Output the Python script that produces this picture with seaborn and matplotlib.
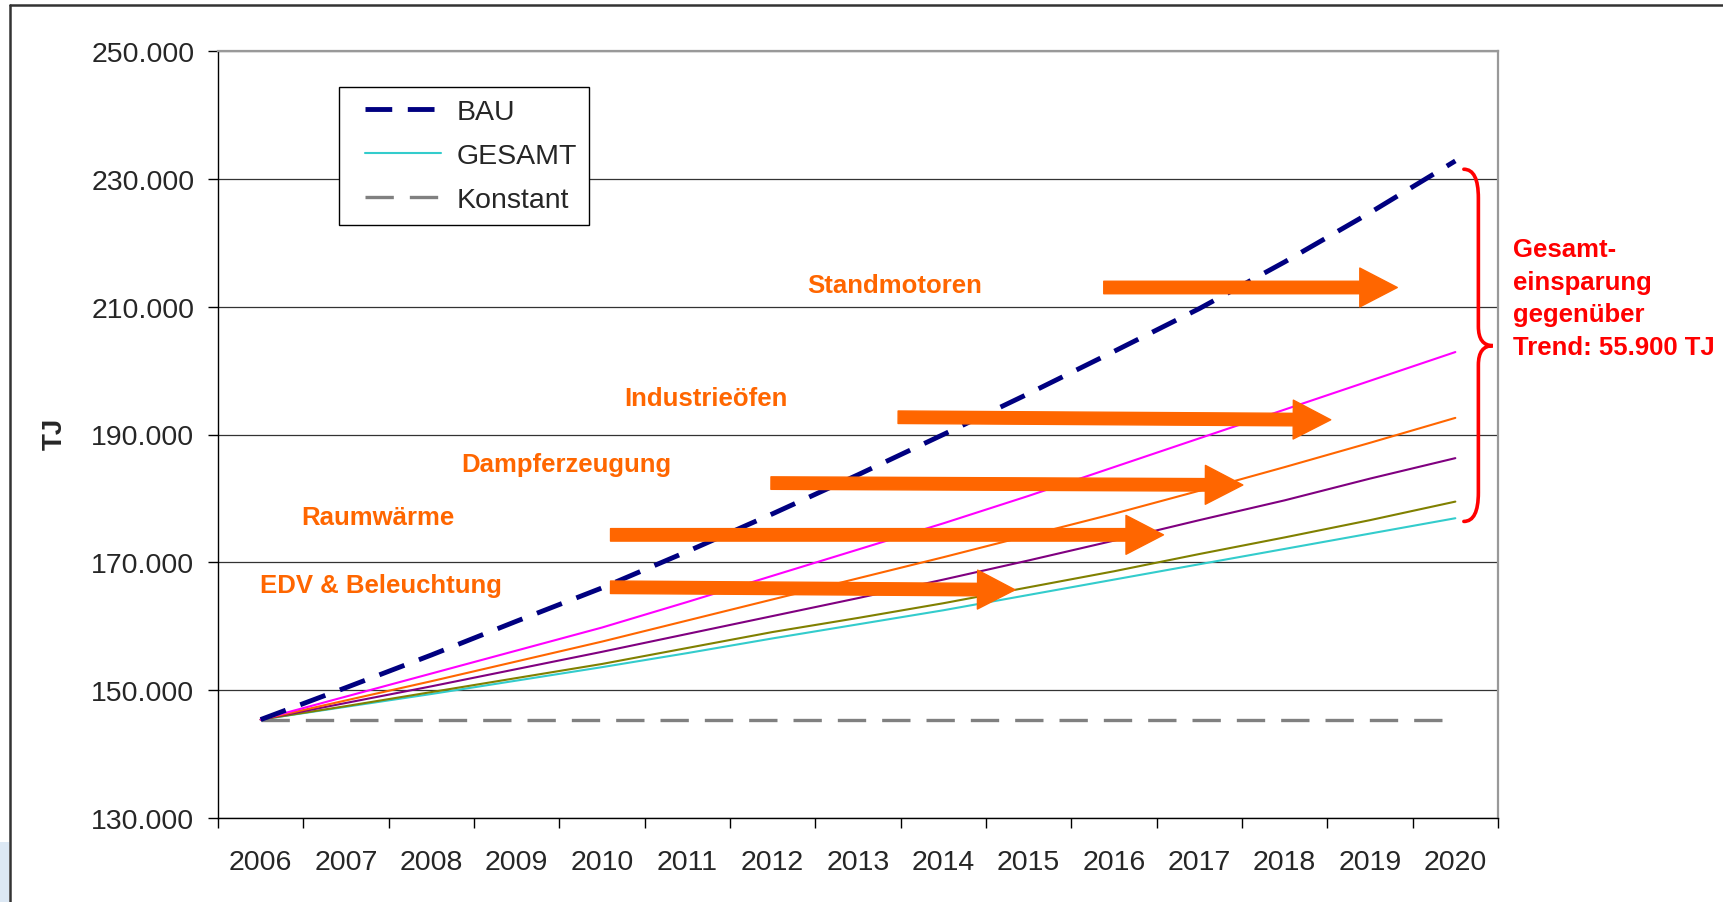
import matplotlib
matplotlib.use('Agg')
import matplotlib.pyplot as plt
import seaborn as sns
import pandas as pd
import numpy as np
from matplotlib.path import Path
from matplotlib.patches import PathPatch, Rectangle
from matplotlib.lines import Line2D
from matplotlib.legend_handler import HandlerLine2D
from matplotlib.ticker import FuncFormatter, FixedLocator

# Daten (TJ)
jahre = list(range(2006, 2021))
bau = [145400, 150400, 155500, 160800, 166000, 171700, 177600, 183700,
       190000, 196400, 203000, 209700, 217000, 224700, 232800]
standmotoren = [145400, 149000, 152600, 156200, 159800, 163800, 167900, 172000,
                176100, 180400, 184900, 189400, 193900, 198400, 202900]
industrieoefen = [145400, 148400, 151400, 154500, 157600, 160900, 164200, 167500,
                  170800, 174200, 177600, 181200, 184900, 188700, 192600]
dampferzeugung = [145400, 148000, 150600, 153300, 156000, 158800, 161600, 164400,
                  167300, 170300, 173400, 176600, 179700, 183100, 186300]
raumwaerme = [145400, 147500, 149700, 151900, 154100, 156600, 159100, 161300,
              163600, 166100, 168600, 171300, 173900, 176600, 179500]
gesamt = [145400, 147400, 149400, 151500, 153600, 155800, 158100, 160300,
          162500, 164900, 167300, 169700, 172100, 174500, 176900]
konstant = [145400] * 15

y_ticks = [130000, 150000, 170000, 190000, 210000, 230000, 250000]

# Pfeile: (Beschriftung, Text-Position, Pfeil-Start, Pfeil-Spitze)
massnahmen = [
    ('Standmotoren', (2013.43, 213400), (2015.88, 213000), (2019.32, 213000)),
    ('Industrieöfen', (2011.22, 195700), (2013.47, 192700), (2018.54, 192300)),
    ('Dampferzeugung', (2009.58, 185400), (2011.98, 182400), (2017.51, 182100)),
    ('Raumwärme', (2007.37, 177100), (2010.10, 174300), (2016.58, 174300)),
    ('EDV & Beleuchtung', (2007.41, 166500), (2010.10, 166100), (2014.84, 165700)),
]

reihen = {
    'BAU': bau,
    'Standmotoren': standmotoren,
    'Industrieöfen': industrieoefen,
    'Dampferzeugung': dampferzeugung,
    'Raumwärme': raumwaerme,
    'GESAMT': gesamt,
    'Konstant': konstant,
}
df = pd.DataFrame([(name, j, v) for name, werte in reihen.items()
                   for j, v in zip(jahre, werte)],
                  columns=['Reihe', 'Jahr', 'TJ'])

stile = {
    'Konstant': dict(color='#808080', lw=2.4, linestyle=(0, (8.5, 4.8))),
    'GESAMT': dict(color='#33CCCC', lw=1.5, linestyle='-'),
    'Raumwärme': dict(color='#808000', lw=1.5, linestyle='-'),
    'Dampferzeugung': dict(color='#800080', lw=1.5, linestyle='-'),
    'Industrieöfen': dict(color='#FF6600', lw=1.5, linestyle='-'),
    'Standmotoren': dict(color='#FF00FF', lw=1.5, linestyle='-'),
    'BAU': dict(color='#000080', lw=3.5, linestyle=(0, (5.5, 3.2))),
}

sns.set_theme(style='white')
plt.rcParams['font.family'] = ['Liberation Sans', 'DejaVu Sans']

fig = plt.figure(figsize=(17.24, 9.03), dpi=100)
ax = fig.add_axes([218 / 1724, 1 - 819 / 903, 1280 / 1724, 767 / 903])

linien = {}
for name, stil in stile.items():
    sns.lineplot(data=df[df['Reihe'] == name], x='Jahr', y='TJ', ax=ax,
                 color=stil['color'], lw=stil['lw'], linestyle=stil['linestyle'],
                 zorder=3)
    linien[name] = ax.lines[-1]

ax.set_xlim(2005.5, 2020.5)
ax.set_ylim(130000, 250000)
ax.set_yticks(y_ticks)
ax.yaxis.set_major_formatter(FuncFormatter(lambda v, p: f'{int(v):,}'.replace(',', '.')))
ax.grid(axis='y', color='#333333', lw=0.9)
ax.grid(axis='x', visible=False)

# Kategorieachse: Striche zwischen den Jahren, Beschriftung mittig
ax.xaxis.set_major_locator(FixedLocator(np.arange(2005.5, 2021, 1.0)))
ax.xaxis.set_minor_locator(FixedLocator(jahre))
ax.set_xticklabels([])
ax.set_xticklabels([str(j) for j in jahre], minor=True)
ax.tick_params(axis='x', which='major', direction='out', length=7, width=1,
               color='black', bottom=True)
ax.tick_params(axis='x', which='minor', length=0, pad=22, labelsize=20.5)
ax.tick_params(axis='y', direction='out', length=7, width=1, color='black',
               left=True, pad=10, labelsize=20.5)
ax.set_xlabel('')
ax.set_ylabel('')

for side in ['left', 'bottom']:
    ax.spines[side].set_color('black')
    ax.spines[side].set_linewidth(1)
for side in ['top', 'right']:
    ax.spines[side].set_color('#999999')
    ax.spines[side].set_linewidth(1.6)

# Pfeile und Beschriftungen
orange = '#FF6600'
for label, text_pos, start, spitze in massnahmen:
    ax.annotate('', xy=spitze, xytext=start,
                arrowprops=dict(arrowstyle='simple,head_length=27,head_width=28,tail_width=9',
                                mutation_scale=1, color=orange, shrinkA=0, shrinkB=0),
                zorder=4)
    ax.text(text_pos[0], text_pos[1], label, color=orange, fontsize=18.5,
            fontweight='bold', ha='center', va='center', zorder=5)

# geschweifte Klammer
x0, xv, xt = 2020.10, 2020.27, 2020.44
oben, unten = bau[-1] - 1300, gesamt[-1] - 500
mitte = 203900
r1, r2 = 4500, 3000
verts = [(x0, oben), (xv, oben), (xv, oben - r1),
         (xv, mitte + r2), (xv, mitte), (xt, mitte),
         (xv, mitte), (xv, mitte - r2),
         (xv, unten + r1), (xv, unten), (x0, unten)]
codes = [Path.MOVETO, Path.CURVE3, Path.CURVE3,
         Path.LINETO, Path.CURVE3, Path.CURVE3,
         Path.CURVE3, Path.CURVE3,
         Path.LINETO, Path.CURVE3, Path.CURVE3]
ax.add_patch(PathPatch(Path(verts, codes), fill=False, edgecolor='#FF0000',
                       lw=2.6, capstyle='round', clip_on=False, zorder=5))

fig.text(1513 / 1724, 1 - 299 / 903, 'Gesamt-\neinsparung\ngegenüber\nTrend: 55.900 TJ',
         color='#FF0000', fontsize=18.5, fontweight='bold', ha='left', va='center',
         linespacing=1.45)

fig.text(55 / 1724, 1 - 434 / 903, 'TJ', rotation=90, fontsize=20,
         fontweight='bold', ha='center', va='center')

leg = ax.legend([linien['BAU'], linien['GESAMT'], linien['Konstant']],
                ['BAU', 'GESAMT', 'Konstant'],
                handler_map={Line2D: HandlerLine2D(xpad=0.5)},
                loc='upper left', bbox_to_anchor=(339 / 1724, 1 - 88 / 903),
                bbox_transform=fig.transFigure, borderaxespad=0,
                fontsize=20.5, handlelength=3.15, handletextpad=0.55,
                labelspacing=0.64, borderpad=0.42, fancybox=False,
                framealpha=1, edgecolor='black')
leg.get_frame().set_linewidth(1)
leg.set_zorder(10)

# Rahmen der Folie
fig.add_artist(Line2D([10 / 1724, 1], [1 - 6 / 903, 1 - 6 / 903],
                      transform=fig.transFigure, color='#333333', lw=1.8))
fig.add_artist(Line2D([10 / 1724, 10 / 1724], [0, 1 - 6 / 903],
                      transform=fig.transFigure, color='#333333', lw=1.8))
fig.add_artist(Rectangle((0, 0), 9 / 1724, 60 / 903, transform=fig.transFigure,
                         facecolor='#DCE8F4', edgecolor='none'))

plt.savefig('out.png', dpi=100)
plt.close()
